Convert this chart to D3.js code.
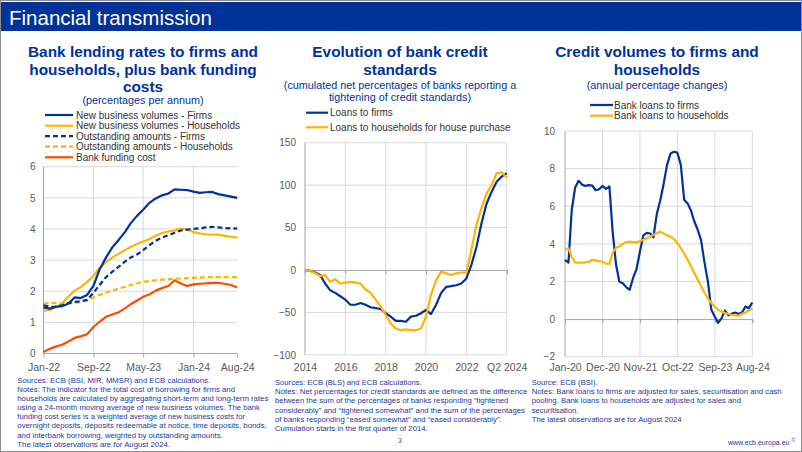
<!DOCTYPE html>
<html><head><meta charset="utf-8">
<script src="https://cdn.jsdelivr.net/npm/d3@7"></script>
<style>
body{margin:0;background:#fff}
svg{display:block}
text{font-family:"Liberation Sans",Arial,Helvetica,sans-serif}
</style>
</head><body>
<svg id="c" width="802" height="452"></svg>
<script>
// ---------------- DATA ----------------
// Chart 1: bank lending rates (percentages per annum), monthly Jan-22 .. Aug-24
const rateMonths = d3.timeMonth.range(new Date(2022,0,1), new Date(2024,7,2));
const rateTickIdx = [0,8,16,24,31];
const nbvFirms = [1.48,1.44,1.5,1.52,1.6,1.8,1.78,1.88,2.17,2.7,3.08,3.4,3.64,3.9,4.18,4.42,4.62,4.84,4.98,5.08,5.14,5.27,5.26,5.25,5.2,5.16,5.18,5.19,5.12,5.08,5.04,5.0];
const nbvHouseholds = [1.37,1.4,1.48,1.6,1.82,2.02,2.13,2.3,2.49,2.75,2.93,3.08,3.2,3.32,3.42,3.52,3.6,3.68,3.78,3.87,3.92,3.95,4.01,3.98,3.9,3.86,3.83,3.82,3.82,3.78,3.75,3.72];
const outFirms = [1.55,1.5,1.5,1.55,1.62,1.66,1.68,1.72,1.95,2.2,2.45,2.62,2.78,2.95,3.08,3.18,3.32,3.48,3.62,3.72,3.8,3.88,3.95,3.98,4.0,4.02,4.05,4.07,4.05,4.03,4.02,4.01];
const outHouseholds = [1.6,1.62,1.62,1.6,1.6,1.62,1.65,1.7,1.8,1.88,1.95,2.02,2.08,2.14,2.2,2.25,2.3,2.33,2.35,2.37,2.38,2.4,2.41,2.42,2.43,2.44,2.45,2.45,2.45,2.45,2.45,2.45];
const fundingCost = [0.05,0.15,0.22,0.28,0.38,0.5,0.55,0.62,0.85,1.02,1.18,1.25,1.32,1.45,1.58,1.7,1.82,1.9,2.02,2.1,2.17,2.35,2.25,2.17,2.22,2.24,2.25,2.27,2.27,2.24,2.2,2.12];
const rateYTicks = [0,1,2,3,4,5,6];

// Chart 2: cumulated net percentages, quarterly
const quarters = [];
for (let yr = 2014; yr <= 2024; yr++) for (let q = 1; q <= 4; q++) {
  const k = yr*10+q; if (k >= 20142 && k <= 20242) quarters.push(yr + "Q" + q);
}
const standardsTicks = ["2014Q2","2016Q2","2018Q2","2020Q2","2022Q2","2024Q2"];
const standardsTickLabels = ["2014","2016","2018","2020","2022","Q2 2024"];
const standardsFirms = [0,-1,-3,-6,-16,-24,-27,-31,-35,-41,-41,-39,-41,-44,-45,-46,-51,-55,-60,-60,-61,-55,-54,-51,-47,-52,-41,-27,-20,-19,-18,-16,-10,6,27,55,78,92,104,110,114];
const standardsHouseholds = [0,-1,-4,-7,-6,-14,-11,-16,-15,-14,-15,-16,-23,-27,-35,-43,-53,-63,-69,-71,-70,-71,-71,-69,-55,-29,-12,-2,-4,-6,-4,-3,-3,24,53,73,90,100,114,115,109];
const standardsYTicks = [-100,-50,0,50,100,150];

// Chart 3: annual percentage changes, monthly Jan-20 .. Aug-24
const volMonths = d3.timeMonth.range(new Date(2020,0,1), new Date(2024,7,2));
const volTickIdx = [0,11,22,33,44,55];
const loansFirms = [3.15,3.0,5.8,7.0,7.35,7.15,7.08,7.12,7.1,6.85,6.9,7.08,6.92,7.05,4.7,2.9,1.98,1.9,1.7,1.55,2.2,2.65,3.6,4.45,4.58,4.55,4.35,5.6,6.3,7.2,8.2,8.8,8.9,8.85,8.2,6.35,6.15,5.75,5.2,4.75,4.2,3.0,2.0,0.5,0.12,-0.2,0.05,0.45,0.2,0.3,0.35,0.27,0.35,0.67,0.58,0.88];
const loansHouseholds = [3.68,3.77,3.3,3.02,3.0,3.0,3.02,3.05,3.15,3.12,3.08,3.05,2.95,2.93,3.5,3.8,3.86,4.0,4.1,4.12,4.1,4.07,4.15,4.22,4.3,4.38,4.48,4.57,4.65,4.55,4.45,4.38,4.25,4.05,3.78,3.5,3.15,2.8,2.45,2.1,1.75,1.4,1.1,0.85,0.65,0.5,0.4,0.32,0.27,0.23,0.2,0.18,0.28,0.35,0.45,0.58];
const volYTicks = [-2,0,2,4,6,8,10];

// ---------------- STYLE ----------------
const BLUE = "#003299", YELLOW = "#ffb400", ORANGE = "#ff4b00";
const GRID = "#d9d9d9", AXIS = "#a6a6a6", LABEL = "#595959", NOTE = "#1a3a9c", LEG = "#333333";
const fmtMonth = d3.timeFormat("%b-%y");

const svg = d3.select("#c");
svg.append("rect").attr("width", 802).attr("height", 452).attr("fill", "#fff");
svg.append("rect").attr("x", 0.5).attr("y", 0.5).attr("width", 801).attr("height", 451)
  .attr("fill", "none").attr("stroke", "#8c8c8c");
svg.append("rect").attr("x", 1).attr("y", 2).attr("width", 800).attr("height", 29).attr("fill", BLUE);
svg.append("text").attr("x", 9).attr("y", 25).attr("fill", "#fff").attr("font-size", 20.5)
  .text("Financial transmission");

function txt(x, y, s, o = {}) {
  const t = svg.append("text").attr("x", x).attr("y", y).text(s)
    .attr("font-size", o.size || 10).attr("fill", o.fill || "#000")
    .attr("text-anchor", o.anchor || "start");
  if (o.weight) t.attr("font-weight", o.weight);
  if (o.len) t.attr("textLength", o.len).attr("lengthAdjust", "spacingAndGlyphs");
  return t;
}

// Titles
function title(cx, lines, subs) {
  lines.forEach(l => txt(cx, l[1], l[0], {size: 15.4, weight: "bold", fill: BLUE, anchor: "middle"}));
  subs.forEach(l => txt(cx, l[1], l[0], {size: 10.8, fill: BLUE, anchor: "middle"}));
}
title(143, [["Bank lending rates to firms and", 57.3], ["households, plus bank funding", 75.3], ["costs", 91.5]],
  [["(percentages per annum)", 104.3]]);
title(400, [["Evolution of bank credit", 57.3], ["standards", 75.3]],
  [["(cumulated net percentages of banks reporting a", 88.5], ["tightening of credit standards)", 101]]);
title(657, [["Credit volumes to firms and", 57.3], ["households", 75.3]],
  [["(annual percentage changes)", 88.5]]);

// Legend helper
function legend(items, x0, x1, tx, ys) {
  items.forEach((it, i) => {
    svg.append("line").attr("x1", x0).attr("x2", x1).attr("y1", ys[i]).attr("y2", ys[i])
      .attr("stroke", it.color).attr("stroke-width", 2.2)
      .attr("stroke-dasharray", it.dash ? "5,3" : null);
    txt(tx, ys[i] + 3.6, it.name, {size: 10, fill: LEG});
  });
}

function drawLine(data, x, y, color, dash) {
  svg.append("path").datum(data)
    .attr("fill", "none").attr("stroke", color).attr("stroke-width", 2.2)
    .attr("stroke-linejoin", "round")
    .attr("stroke-dasharray", dash ? "5,3" : null)
    .attr("d", d3.line().x(d => x(d[0])).y(d => y(d[1])));
}
function styleAxis(g, size) {
  g.select(".domain").remove();
  g.selectAll(".tick line").attr("stroke", AXIS);
  g.selectAll("text").attr("fill", LABEL).attr("font-size", size)
    .attr("font-family", '"Liberation Sans",Arial,sans-serif');
}

// ---------------- CHART 1 ----------------
{
  const x = d3.scaleTime().domain([rateMonths[0], rateMonths[rateMonths.length-1]]).range([43.5, 237.25]);
  const y = d3.scaleLinear().domain([0, 6]).range([353.5, 166.7]);
  const tickDates = rateTickIdx.map(i => rateMonths[i]);
  const grid = svg.append("g");
  rateYTicks.filter(v => v > 0).forEach(v => grid.append("line")
    .attr("x1", x.range()[0]).attr("x2", x.range()[1]).attr("y1", y(v)).attr("y2", y(v))
    .attr("stroke", GRID));
  tickDates.slice(1, 4).forEach(d => grid.append("line")
    .attr("x1", x(d)).attr("x2", x(d)).attr("y1", y(0)).attr("y2", y(6)).attr("stroke", GRID));
  svg.append("line").attr("x1", 43.5).attr("x2", 43.5).attr("y1", y(6)).attr("y2", y(0)).attr("stroke", AXIS);
  svg.append("line").attr("x1", 43.5).attr("x2", 237.25).attr("y1", y(0)).attr("y2", y(0)).attr("stroke", AXIS);
  const gx = svg.append("g").attr("transform", `translate(0,${y(0)})`)
    .call(d3.axisBottom(x).tickValues(tickDates).tickFormat(fmtMonth).tickSize(4).tickPadding(6));
  styleAxis(gx, 10.5);
  const gy = svg.append("g").attr("transform", `translate(43.5,0)`)
    .call(d3.axisLeft(y).tickValues(rateYTicks).tickSize(0).tickPadding(8).tickFormat(d3.format("d")));
  styleAxis(gy, 10);
  const z = arr => arr.map((v, i) => [rateMonths[i], v]);
  drawLine(z(outHouseholds), x, y, YELLOW, true);
  drawLine(z(nbvHouseholds), x, y, YELLOW, false);
  drawLine(z(outFirms), x, y, BLUE, true);
  drawLine(z(nbvFirms), x, y, BLUE, false);
  drawLine(z(fundingCost), x, y, ORANGE, false);
  legend([
    {name: "New business volumes - Firms", color: BLUE},
    {name: "New business volumes - Households", color: YELLOW},
    {name: "Outstanding amounts - Firms", color: BLUE, dash: true},
    {name: "Outstanding amounts - Households", color: YELLOW, dash: true},
    {name: "Bank funding cost", color: ORANGE}
  ], 45, 73, 76, [115, 125.7, 136.2, 146.7, 157.3]);
}

// ---------------- CHART 2 ----------------
{
  const x = d3.scalePoint().domain(quarters).range([305, 506.7]);
  const y = d3.scaleLinear().domain([-100, 150]).range([354.8, 142.7]);
  const grid = svg.append("g");
  standardsYTicks.filter(v => v !== 0).forEach(v => grid.append("line")
    .attr("x1", 305).attr("x2", 506.7).attr("y1", y(v)).attr("y2", y(v)).attr("stroke", GRID));
  standardsTicks.slice(1).forEach(q => grid.append("line")
    .attr("x1", x(q)).attr("x2", x(q)).attr("y1", y(-100)).attr("y2", y(150)).attr("stroke", GRID));
  svg.append("line").attr("x1", 305).attr("x2", 305).attr("y1", y(150)).attr("y2", y(-100)).attr("stroke", AXIS);
  const gz = svg.append("g").attr("transform", `translate(0,${y(0)})`)
    .call(d3.axisBottom(x).tickValues(standardsTicks).tickSize(4).tickFormat(""));
  gz.select(".domain").attr("stroke", AXIS);
  gz.selectAll(".tick line").attr("stroke", AXIS);
  const lab = new Map(standardsTicks.map((q, i) => [q, standardsTickLabels[i]]));
  const gx = svg.append("g").attr("transform", `translate(0,${y(-100)})`)
    .call(d3.axisBottom(x).tickValues(standardsTicks).tickFormat(q => lab.get(q)).tickSize(0).tickPadding(8.7));
  styleAxis(gx, 10.5);
  const gy = svg.append("g").attr("transform", `translate(305,0)`)
    .call(d3.axisLeft(y).tickValues(standardsYTicks).tickSize(0).tickPadding(9).tickFormat(d3.format("d")));
  styleAxis(gy, 10);
  const z = arr => arr.map((v, i) => [quarters[i], v]);
  drawLine(z(standardsFirms), x, y, BLUE, false);
  drawLine(z(standardsHouseholds), x, y, YELLOW, false);
  legend([
    {name: "Loans to firms", color: BLUE},
    {name: "Loans to households for house purchase", color: YELLOW}
  ], 306, 328, 330, [112.7, 127.3]);
}

// ---------------- CHART 3 ----------------
{
  const x = d3.scaleTime().domain([volMonths[0], volMonths[volMonths.length-1]]).range([565, 752.3]);
  const y = d3.scaleLinear().domain([-2, 10]).range([356.7, 131]);
  const tickDates = volTickIdx.map(i => volMonths[i]);
  const grid = svg.append("g");
  volYTicks.filter(v => v !== 0).forEach(v => grid.append("line")
    .attr("x1", 565).attr("x2", 752.3).attr("y1", y(v)).attr("y2", y(v)).attr("stroke", GRID));
  tickDates.slice(1).forEach(d => grid.append("line")
    .attr("x1", x(d)).attr("x2", x(d)).attr("y1", y(-2)).attr("y2", y(10)).attr("stroke", GRID));
  svg.append("line").attr("x1", 565).attr("x2", 565).attr("y1", y(10)).attr("y2", y(-2)).attr("stroke", AXIS);
  const gz = svg.append("g").attr("transform", `translate(0,${y(0)})`)
    .call(d3.axisBottom(x).tickValues(tickDates).tickSize(4).tickFormat(""));
  gz.select(".domain").attr("stroke", AXIS);
  gz.selectAll(".tick line").attr("stroke", AXIS);
  const gx = svg.append("g").attr("transform", `translate(0,${y(-2)})`)
    .call(d3.axisBottom(x).tickValues(tickDates).tickFormat(fmtMonth).tickSize(0).tickPadding(6.8));
  styleAxis(gx, 10.5);
  const gy = svg.append("g").attr("transform", `translate(565,0)`)
    .call(d3.axisLeft(y).tickValues(volYTicks).tickSize(0).tickPadding(10).tickFormat(d3.format("d")));
  styleAxis(gy, 10);
  const z = arr => arr.map((v, i) => [volMonths[i], v]);
  drawLine(z(loansFirms), x, y, BLUE, false);
  drawLine(z(loansHouseholds), x, y, YELLOW, false);
  legend([
    {name: "Bank loans to firms", color: BLUE},
    {name: "Bank loans to households", color: YELLOW}
  ], 590, 613, 614, [105, 115.7]);
}

// ---------------- NOTES ----------------
function notes(x, lines) {
  lines.forEach(l => txt(x, l[1], l[0], {size: 7.8, fill: NOTE, len: l[2]}));
}
notes(17.3, [
  ["Sources: ECB (BSI, MIR, MMSR) and ECB calculations.", 382.9, 192.7],
  ["Notes: The indicator for the total cost of borrowing for firms and", 392, 217.7],
  ["households are calculated by aggregating short-term and long-term rates", 401.1, 251],
  ["using a 24-month moving average of new business volumes. The bank", 410.2, 242.7],
  ["funding cost series is a weighted average of new business costs for", 419.3, 227.7],
  ["overnight deposits, deposits redeemable at notice, time deposits, bonds,", 428.4, 249.4],
  ["and interbank borrowing, weighted by outstanding amounts.", 437.5, 205.4],
  ["The latest observations are for August 2024.", 446.6, 152.7]
]);
notes(275, [
  ["Sources: ECB (BLS) and ECB calculations.", 385, 146.7],
  ["Notes: Net percentages for credit standards are defined as the difference", 394.2, 252.3],
  ["between the sum of the percentages of banks responding \u201ctightened", 403.4, 233.3],
  ["considerably\u201d and \u201ctightened somewhat\u201d and the sum of the percentages", 412.6, 250],
  ["of banks responding \u201ceased somewhat\u201d and \u201ceased considerably\u201d.", 421.8, 226.7],
  ["Cumulation starts in the first quarter of 2014.", 431, 152.7]
]);
notes(531.7, [
  ["Source: ECB (BSI).", 385, 66],
  ["Notes: Bank loans to firms are adjusted for sales, securitisation and cash", 394.2, 250],
  ["pooling. Bank loans to households are adjusted for sales and", 403.4, 209.3],
  ["securitisation.", 412.6, 46.6],
  ["The latest observations are for August 2024", 421.8, 150]
]);

// Footer
txt(400, 443, "3", {size: 7, fill: LABEL, anchor: "middle"});
const f = txt(728, 445, "www.ecb.europa.eu ", {size: 7, fill: NOTE});
f.append("tspan").attr("font-size", 5).attr("dy", -3).text("\u00a9");
</script>
</body></html>
